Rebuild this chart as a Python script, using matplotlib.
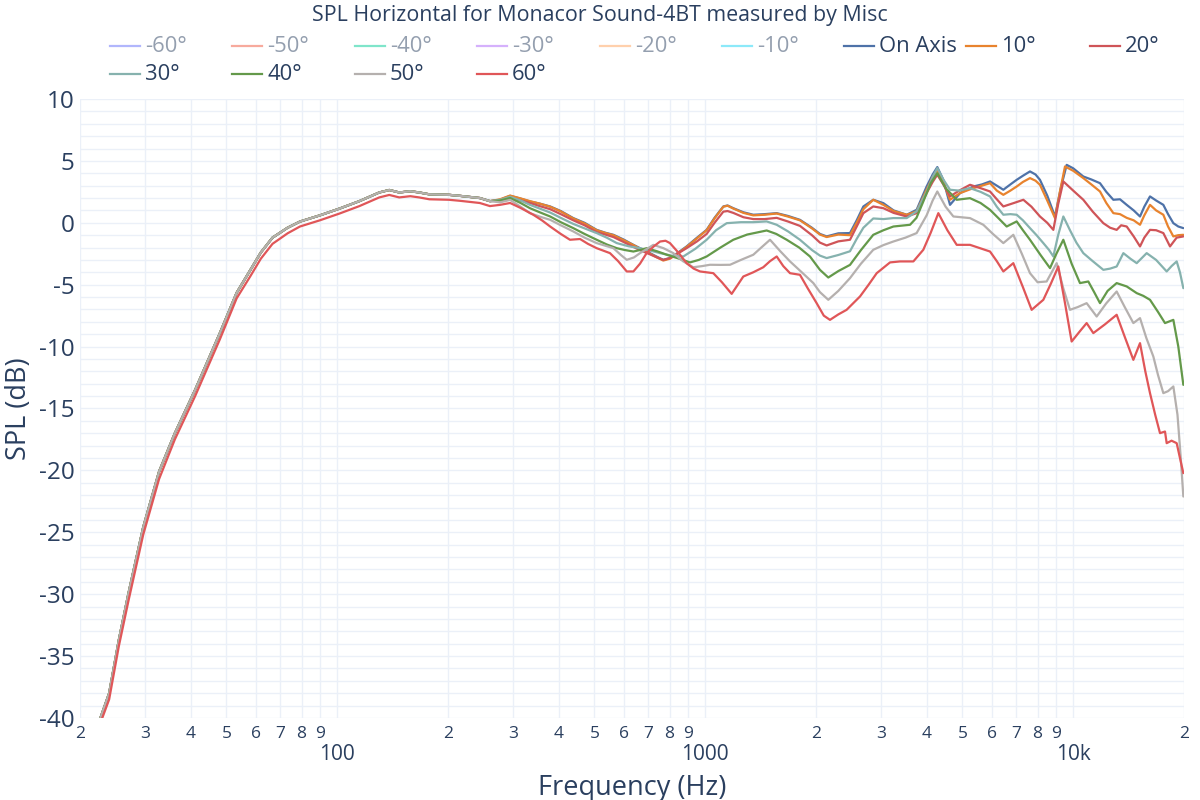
#!/usr/bin/env python3
"""
SPL horizontal directivity plot, Monacor Sound-4BT.
"""

import matplotlib
matplotlib.use('Agg')
import matplotlib.pyplot as plt
from matplotlib.lines import Line2D
from matplotlib.ticker import FixedLocator, FixedFormatter, NullFormatter

plt.rcParams['font.family'] = ['Open Sans', 'DejaVu Sans']
plt.rcParams['axes.unicode_minus'] = False

TEXT = '#2a3f5f'
TEXT_OFF = '#949faf'
GRID = '#ebf0f8'

# shared low-frequency part (all curves overlap below ~270 Hz)
low_freq = [22.6, 24.0, 25.5, 27.1, 29.7, 32.8, 36.2, 41.1, 48.0, 53.3, 58.1, 62.0, 66.7, 73.3, 79.2,
            89.7, 101.5, 114.9, 130.1, 138.5, 147.4, 158, 167, 178, 201, 215, 244, 260]
low_spl = [-40.2, -38.0, -33.7, -29.9, -24.6, -20.1, -17.0, -13.5, -8.9, -5.65, -3.8, -2.4, -1.2, -0.4, 0.1,
           0.6, 1.15, 1.75, 2.45, 2.65, 2.45, 2.55, 2.45, 2.3, 2.26, 2.18, 2.0, 1.75]
low_spl_60 = [-40.6, -38.5, -34.2, -30.5, -25.2, -20.7, -17.5, -14.0, -9.4, -6.1, -4.3, -2.9, -1.7, -0.85, -0.3,
              0.2, 0.75, 1.35, 2.05, 2.25, 2.05, 2.15, 2.05, 1.9, 1.86, 1.78, 1.6, 1.35]

freq_on = [277, 295, 315, 334, 355, 379, 405, 438, 470, 507, 535, 563, 600, 638, 670, 708, 740, 769, 802,
           840, 890, 950, 1009, 1060, 1120, 1150, 1192, 1270, 1351, 1450, 1564, 1680, 1809, 1950, 2050,
           2138, 2300, 2474, 2580, 2690, 2862, 3048, 3250, 3528, 3754, 3996, 4150, 4272, 4436, 4626, 4926,
           5352, 5650, 5942, 6200, 6458, 6750, 7020, 7300, 7630, 7900, 8122, 8500, 8922, 9250, 9598,
           10000, 10652, 11200, 11824, 12300, 12854, 13400, 13974, 14600, 15188, 15600, 16168, 16800,
           17574, 18100, 18710, 19300, 19918]
spl_on = [1.86, 2.18, 1.95, 1.72, 1.55, 1.32, 0.95, 0.38, 0.0, -0.57, -0.8, -0.97, -1.35, -1.78, -2.1,
          -2.45, -2.75, -2.99, -2.85, -2.45, -1.91, -1.2, -0.57, 0.4, 1.32, 1.4, 1.18, 0.85, 0.65, 0.7, 0.78,
          0.55, 0.24, -0.4, -0.9, -1.10, -0.85, -0.83, 0.2, 1.32, 1.86, 1.59, 1.0, 0.65, 1.05, 2.93, 3.9,
          4.50, 3.47, 1.45, 2.40, 2.93, 3.1, 3.34, 3.0, 2.67, 3.1, 3.47, 3.8, 4.15, 3.9, 3.47, 2.2, 0.51,
          2.8, 4.68, 4.4, 3.74, 3.5, 3.20, 2.5, 1.86, 1.9, 1.45, 1.0, 0.51, 1.3, 2.13, 1.8, 1.45, 0.7,
          -0.03, -0.3, -0.43]

freq_10 = [277, 295, 315, 334, 355, 379, 405, 438, 470, 507, 535, 563, 600, 638, 670, 708, 740, 769, 802,
           840, 890, 950, 1009, 1060, 1120, 1150, 1192, 1270, 1351, 1450, 1564, 1680, 1809, 1950, 2050,
           2138, 2300, 2474, 2580, 2690, 2862, 3048, 3250, 3528, 3754, 3996, 4150, 4272, 4436, 4626, 4926,
           5352, 5650, 5942, 6200, 6458, 6750, 7020, 7300, 7630, 7900, 8122, 8500, 8922, 9200, 9498,
           10000, 10652, 11200, 11824, 12300, 12854, 13400, 13974, 14600, 15188, 15600, 16168, 16800,
           17574, 18100, 18710, 19300, 19918]
spl_10 = [1.9, 2.2, 1.97, 1.75, 1.55, 1.3, 0.92, 0.35, -0.05, -0.6, -0.82, -1.0, -1.4, -1.8, -2.15, -2.5,
          -2.8, -3.05, -2.9, -2.5, -1.95, -1.25, -0.6, 0.35, 1.3, 1.38, 1.15, 0.8, 0.6, 0.65, 0.75, 0.5, 0.2,
          -0.45, -0.95, -1.15, -0.95, -1.0, 0.0, 1.1, 1.86, 1.45, 0.95, 0.65, 0.92, 2.67, 3.7, 4.28, 3.3,
          1.86, 2.40, 2.80, 3.0, 3.20, 2.6, 2.26, 2.6, 2.93, 3.3, 3.61, 3.4, 3.07, 1.8, 0.38, 2.5, 4.55,
          4.2, 3.61, 3.1, 2.53, 1.6, 0.78, 0.7, 0.40, 0.2, -0.16, 0.6, 1.45, 1.0, 0.65, -0.3, -1.10, -1.0,
          -0.97]

freq_20 = [277, 295, 315, 334, 355, 379, 405, 438, 470, 507, 535, 563, 600, 638, 670, 708, 740, 769, 802,
           840, 890, 950, 1009, 1060, 1120, 1150, 1192, 1270, 1351, 1450, 1564, 1680, 1809, 1950, 2050,
           2138, 2300, 2474, 2580, 2690, 2862, 3048, 3250, 3528, 3754, 3996, 4150, 4272, 4436, 4626, 4900,
           5242, 5600, 5942, 6200, 6458, 6900, 7320, 7700, 8122, 8500, 8830, 9100, 9400, 10000, 10652,
           11300, 12074, 12600, 13124, 13500, 13974, 14600, 15188, 15600, 16168, 16800, 17574, 18324,
           19100, 19918]
spl_20 = [1.8, 2.0, 1.8, 1.6, 1.35, 1.1, 0.7, 0.2, -0.2, -0.75, -0.95, -1.15, -1.55, -1.95, -2.25, -2.55,
          -2.8, -3.0, -2.85, -2.5, -2.05, -1.5, -0.9, 0.0, 0.9, 0.95, 0.8, 0.45, 0.3, 0.3, 0.4, 0.1, -0.25,
          -1.0, -1.6, -1.83, -1.5, -1.37, -0.3, 0.78, 1.32, 1.18, 0.8, 0.51, 0.78, 2.40, 3.3, 3.88, 3.1,
          2.13, 2.6, 3.07, 2.8, 2.53, 1.9, 1.32, 1.6, 1.86, 1.3, 0.51, 0.0, -0.57, 1.5, 3.34, 2.6, 1.86,
          0.9, -0.03, -0.4, -0.57, -0.2, -0.30, -1.1, -1.91, -1.2, -0.57, -0.6, -0.83, -1.91, -1.2, -1.10]

freq_30 = [277, 295, 315, 334, 355, 379, 405, 438, 470, 507, 540, 575, 620, 665, 710, 754, 810, 872, 940,
           1009, 1070, 1144, 1250, 1350, 1469, 1564, 1680, 1809, 1950, 2050, 2138, 2300, 2474, 2580,
           2690, 2862, 3050, 3246, 3528, 3754, 3996, 4150, 4272, 4436, 4626, 4900, 5242, 5600, 5942,
           6200, 6458, 6750, 7020, 7300, 7630, 7950, 8294, 8600, 8830, 9100, 9400, 9800, 10200, 10652,
           11300, 12074, 12600, 13124, 13684, 14300, 14876, 15834, 16800, 17946, 18500, 19106, 19500,
           19918]
spl_30 = [1.85, 2.1, 1.8, 1.45, 1.15, 0.83, 0.4, -0.09, -0.45, -0.83, -1.2, -1.64, -1.9, -2.05, -2.25,
          -2.45, -2.65, -2.72, -2.1, -1.37, -0.6, -0.03, 0.05, 0.05, 0.11, -0.16, -0.7, -1.37, -2.2, -2.65,
          -2.85, -2.6, -2.3, -1.3, -0.4, 0.35, 0.3, 0.38, 0.38, 0.92, 2.5, 3.7, 4.42, 3.5, 2.67, 2.6, 2.80,
          2.5, 2.13, 1.3, 0.65, 0.7, 0.65, 0.2, -0.43, -1.0, -1.64, -2.2, -2.72, -1.0, 0.51, -0.6, -1.6,
          -2.45, -3.1, -3.80, -3.7, -3.53, -2.45, -2.9, -3.26, -2.45, -3.0, -3.93, -3.5, -3.12, -4.0, -5.28]

freq_40 = [277, 295, 315, 334, 355, 379, 405, 438, 470, 507, 540, 575, 605, 638, 665, 693, 740, 786, 850,
           909, 960, 1009, 1100, 1192, 1300, 1469, 1560, 1665, 1800, 1926, 2050, 2160, 2300, 2474, 2650,
           2862, 3050, 3246, 3602, 3750, 3914, 4100, 4272, 4500, 4824, 5242, 5600, 5942, 6250, 6594, 7020,
           7300, 7630, 8150, 8648, 9000, 9400, 9900, 10432, 10990, 11400, 11824, 12400, 13124, 13974,
           14876, 15500, 16168, 17000, 17758, 18710, 19300, 19918]
spl_40 = [1.8, 2.0, 1.6, 1.18, 0.85, 0.51, 0.05, -0.43, -0.9, -1.37, -1.75, -2.05, -2.2, -2.32, -2.2, -2.05,
          -2.3, -2.58, -2.9, -3.20, -3.0, -2.72, -2.0, -1.37, -0.95, -0.62, -0.9, -1.37, -2.0, -2.72, -3.8,
          -4.42, -3.9, -3.4, -2.2, -0.97, -0.6, -0.30, -0.16, 0.4, 1.72, 3.2, 4.01, 2.8, 1.86, 1.99, 1.6,
          1.05, 0.4, -0.30, 0.11, -0.6, -1.37, -2.6, -3.66, -2.5, -1.37, -3.3, -4.87, -4.74, -5.6, -6.49,
          -5.5, -4.87, -5.14, -5.68, -5.9, -6.22, -7.2, -8.10, -7.84, -10.0, -13.09]

freq_50 = [277, 295, 315, 334, 355, 379, 405, 438, 470, 507, 535, 563, 590, 612, 640, 665, 695, 723, 770,
           819, 870, 928, 980, 1030, 1100, 1168, 1250, 1351, 1420, 1500, 1600, 1700, 1830, 1967, 2050,
           2160, 2300, 2474, 2650, 2862, 3050, 3246, 3500, 3754, 3996, 4150, 4272, 4500, 4724, 5242, 5698,
           6050, 6458, 6874, 7250, 7630, 8000, 8468, 9016, 9400, 9800, 10300, 10876, 11580, 12300, 13124,
           13800, 14568, 15188, 15800, 16508, 17000, 17574, 18100, 18710, 19200, 19600, 19918]
spl_50 = [1.65, 1.85, 1.3, 0.78, 0.5, 0.24, -0.2, -0.70, -1.2, -1.64, -1.85, -2.05, -2.6, -2.99, -2.8,
          -2.45, -2.1, -1.78, -2.05, -2.45, -3.1, -3.59, -3.5, -3.39, -3.4, -3.39, -3.0, -2.58, -2.0, -1.37,
          -2.3, -3.12, -4.0, -4.87, -5.6, -6.22, -5.5, -4.47, -3.3, -2.18, -1.8, -1.51, -1.2, -0.83, 0.6,
          1.8, 2.53, 1.3, 0.51, 0.38, -0.16, -0.9, -1.64, -0.97, -2.5, -4.07, -4.8, -4.74, -3.26, -5.3,
          -7.03, -6.8, -6.49, -7.57, -6.5, -5.55, -6.8, -8.10, -7.70, -9.3, -10.80, -12.3, -13.76, -13.6,
          -13.22, -15.5, -19.0, -22.11]

freq_60 = [277, 295, 315, 341, 360, 379, 405, 429, 457, 480, 507, 551, 580, 612, 638, 665, 693, 725, 754,
           780, 802, 845, 890, 930, 968, 1052, 1110, 1180, 1220, 1269, 1350, 1438, 1500, 1564, 1630, 1700,
           1809, 1900, 2008, 2100, 2183, 2300, 2422, 2634, 2780, 2924, 3178, 3383, 3678, 3914, 4100, 4300,
           4550, 4824, 5242, 5942, 6200, 6458, 6874, 7300, 7710, 8294, 8700, 9110, 9500, 9902, 10400,
           10876, 11340, 12200, 13124, 13800, 14568, 15188, 15700, 16168, 16700, 17212, 17758, 17946,
           18500, 19106, 19500, 19918]
spl_60 = [1.45, 1.6, 1.2, 0.65, 0.2, -0.30, -0.9, -1.37, -1.31, -1.7, -2.05, -2.45, -3.1, -3.93, -3.93,
          -3.3, -2.45, -1.9, -1.51, -1.45, -1.64, -2.4, -3.26, -3.7, -3.93, -4.07, -4.8, -5.74, -5.1, -4.34,
          -4.0, -3.59, -3.1, -2.72, -3.5, -4.07, -4.20, -5.3, -6.49, -7.5, -7.84, -7.4, -7.03, -5.95, -5.0,
          -4.07, -3.2, -3.12, -3.12, -2.18, -0.8, 0.78, -0.6, -1.78, -1.78, -2.32, -3.1, -3.93, -3.26,
          -5.2, -7.03, -6.22, -4.9, -3.53, -6.5, -9.59, -8.8, -8.10, -8.91, -8.2, -7.43, -9.2, -11.07,
          -9.72, -12.0, -13.76, -15.5, -16.99, -16.86, -17.80, -17.6, -17.80, -19.0, -20.22]

# legend-only (hidden) traces
hidden_labels = ['-60°', '-50°', '-40°', '-30°', '-20°', '-10°']
hidden_colors = ['#b1b6fc', '#f7aa9d', '#7fe5ca', '#d5b1fc', '#ffd0ac', '#8ce9f9']

shown = [
    ('On Axis', freq_on, spl_on, low_spl, '#4e72a8'),
    ('10°', freq_10, spl_10, low_spl, '#e8832e'),
    ('20°', freq_20, spl_20, low_spl, '#cf5458'),
    ('30°', freq_30, spl_30, low_spl, '#86b2ae'),
    ('40°', freq_40, spl_40, low_spl, '#64994a'),
    ('50°', freq_50, spl_50, low_spl, '#b5b0ae'),
    ('60°', freq_60, spl_60, low_spl_60, '#e05658'),
]

W, H = 1200, 800
fig = plt.figure(figsize=(12, 8), dpi=100)
ax = fig.add_axes([80 / W, 1 - 718 / H, (1184 - 80) / W, (718 - 99) / H])

for name, f, s, low, color in shown:
    ax.plot(low_freq + f, low + s, color=color, lw=1.6, solid_joinstyle='round',
            solid_capstyle='round')

ax.set_xscale('log')
ax.set_xlim(20, 20000)
ax.set_ylim(-40, 10)

# x ticks: decades labelled below, digits above
majors = [100, 1000, 10000]
minors = [d * 10 ** e for e in (1, 2, 3) for d in range(2, 10)] + [20000]
digit_labels = [str(d) for e in (1, 2, 3) for d in range(2, 10)] + ['2']
ax.xaxis.set_major_locator(FixedLocator(majors))
ax.xaxis.set_major_formatter(FixedFormatter(['100', '1000', '10k']))
ax.xaxis.set_minor_locator(FixedLocator(minors))
ax.xaxis.set_minor_formatter(FixedFormatter(digit_labels))
ax.tick_params(axis='x', which='major', length=0, pad=19, labelsize=15, labelcolor=TEXT)
ax.tick_params(axis='x', which='minor', length=0, pad=6, labelsize=12.5, labelcolor=TEXT)

ax.set_yticks(range(-40, 11, 5))
ax.set_yticks(range(-40, 11), minor=True)
ax.yaxis.set_minor_formatter(NullFormatter())
ax.tick_params(axis='y', which='both', length=0, pad=4, labelsize=17.5, labelcolor=TEXT)

ax.grid(True, which='both', color=GRID, lw=1)
ax.set_axisbelow(True)
for sp in ax.spines.values():
    sp.set_visible(False)

ax.set_xlabel('Frequency (Hz)', fontsize=19.5, color=TEXT, labelpad=6)
ax.set_ylabel('SPL (dB)', fontsize=19.5, color=TEXT, labelpad=4)

fig.text(0.5, 1 - 15 / H, 'SPL Horizontal for Monacor Sound-4BT measured by Misc',
         ha='center', va='center', fontsize=15.4, color=TEXT)

# legend, two rows like the original
legend_x = [110, 232, 355, 477, 600, 722, 844, 966, 1090, 110, 232, 355, 477]
legend_y = [46] * 9 + [74] * 4
entries = [(l, c, False) for l, c in zip(hidden_labels, hidden_colors)] + \
          [(s[0], s[4], True) for s in shown]
for (label, color, on), x, y in zip(entries, legend_x, legend_y):
    yy = 1 - y / H
    fig.add_artist(Line2D([x / W, (x + 30) / W], [yy, yy], color=color, lw=1.6))
    fig.text((x + 35) / W, yy, label, ha='left', va='center', fontsize=15.8,
             color=TEXT if on else TEXT_OFF)

fig.savefig('out.png', dpi=100)
